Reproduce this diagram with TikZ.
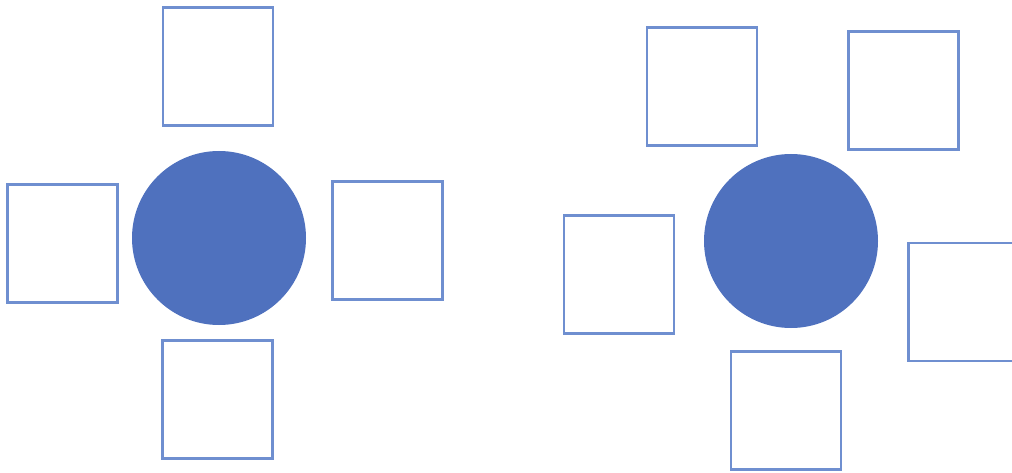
\documentclass[tikz,border=0pt]{standalone}
\begin{document}
\begin{tikzpicture}[x=1pt,y=-1pt,
  boxshape/.style={draw=boxblue,line width=2.4pt,fill=white,rectangle,inner sep=0pt,minimum width=110pt,minimum height=118pt},
  hub/.style={circle,fill=hubblue,inner sep=0pt,minimum size=174pt}]
\definecolor{boxblue}{HTML}{6F8FD0}
\definecolor{hubblue}{HTML}{4F71BE}
\useasboundingbox (0,0) rectangle (1012,473);
\clip (0,0) rectangle (1012,473);
% left group
\node[hub] (c1) at (219,238) {};
\node[boxshape] (t1) at (218,66.5) {};
\node[boxshape] (l1) at (62.5,243.5) {};
\node[boxshape] (r1) at (387.5,240.5) {};
\node[boxshape] (b1) at (217.5,399.5) {};
% right group
\node[hub] (c2) at (791,241) {};
\node[boxshape] (tl2) at (702,86.5) {};
\node[boxshape] (tr2) at (903.5,90.5) {};
\node[boxshape] (l2) at (619,274.5) {};
\node[boxshape] (r2) at (963.5,302) {};
\node[boxshape] (b2) at (786,410.5) {};
\end{tikzpicture}
\end{document}
